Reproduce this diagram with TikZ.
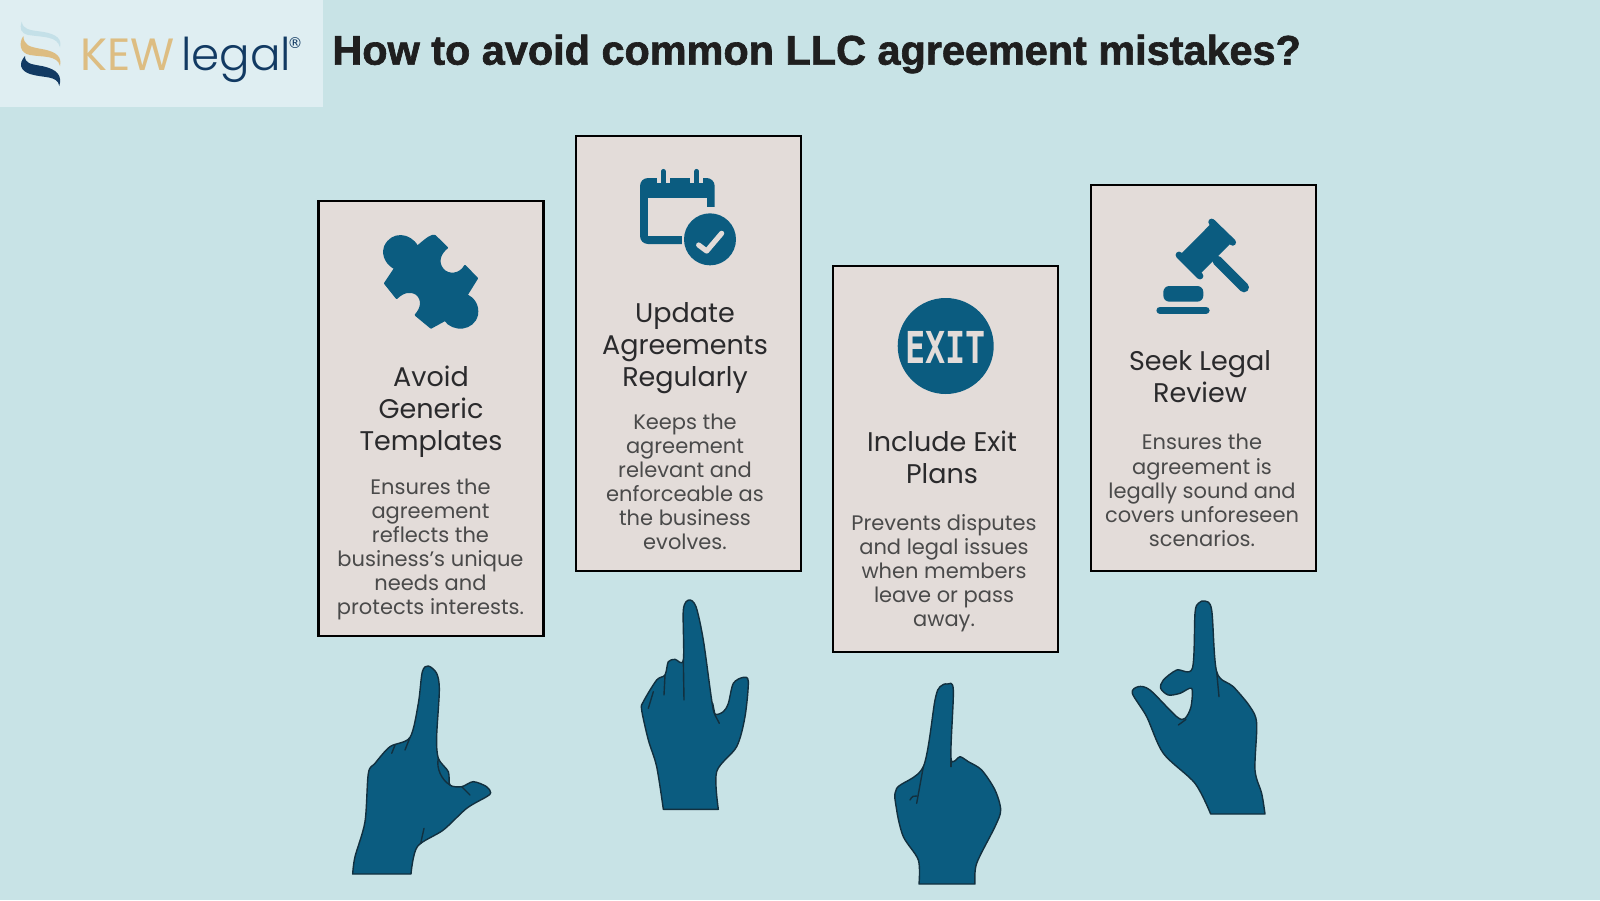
\documentclass[tikz,border=0pt]{standalone}
\usepackage{fontspec}
\setmainfont{Poppins}
\newfontfamily\titlefont[FakeBold=1.6]{Liberation Sans Bold}
\newfontfamily\exitfont{DejaVu Sans Mono Bold}
\newfontfamily\regfont{DejaVu Sans}
\usetikzlibrary{calc}
\definecolor{bgc}{HTML}{C8E3E6}
\definecolor{panelc}{HTML}{DFEEF2}
\definecolor{cardc}{HTML}{E3DCD9}
\definecolor{handc}{HTML}{0B5C80}
\definecolor{handline}{HTML}{12303F}
\definecolor{headc}{HTML}{2A2A2C}
\definecolor{bodyc}{HTML}{4A4A4A}
\definecolor{goldc}{HTML}{DDBD82}
\definecolor{navyc}{HTML}{123A63}
\definecolor{palec}{HTML}{C4E0E8}
\tikzset{
 card/.style={draw=black,fill=cardc,line width=1.2pt,minimum width=112.5pt,inner sep=0pt},
 head/.style={text=headc,align=center,inner sep=0pt,font=\fontsize{13.5}{15.9}\selectfont},
 bodytext/.style={text=bodyc,align=center,inner sep=0pt,font=\fontsize{10.5}{12.05}\selectfont},
 hand/.style={fill=handc,draw=handline,line width=.7pt,line join=round},
 crease/.style={draw=handline,line width=.7pt,line cap=round},
 icon/.style={fill=handc,draw=none},
 iconline/.style={draw=handc,line cap=round},
}
\begin{document}
\begin{tikzpicture}[x=0.5pt,y=-0.5pt]
\useasboundingbox (0,0) rectangle (1600,900);
\fill[bgc] (0,0) rectangle (1600,900);
\fill[panelc] (0,0) rectangle (322.5,107);
% logo
\begin{scope}[scale=1/3]
\fill[palec] (65,65) .. controls (58,85) and (62,100) .. (85,105) .. controls (130,112) and (172,108) .. (180,142) .. controls (186,118) and (172,102) .. (125,95) .. controls (85,90) and (70,88) .. (65,65) -- cycle;
\fill[goldc] (70,108) .. controls (55,130) and (60,160) .. (90,165) .. controls (130,172) and (172,165) .. (180,198) .. controls (186,172) and (172,155) .. (125,147) .. controls (85,140) and (72,135) .. (70,108) -- cycle;
\fill[navyc] (75,168) .. controls (55,190) and (60,212) .. (90,222) .. controls (130,235) and (172,225) .. (178,258) .. controls (186,228) and (175,208) .. (125,198) .. controls (90,192) and (75,190) .. (75,168) -- cycle;
\end{scope}
\node[anchor=base west,inner sep=0pt,text=goldc] (kew) at (80,70) {\fontsize{22.6}{24}\selectfont KEW};
\node[anchor=base west,inner sep=0pt,text=navyc] (legal) at (181,70) {\fontspec{Poppins Light}\fontsize{22.6}{24}\selectfont legal};
\node[inner sep=0pt,text=navyc] (reg) at (295,43) {\regfont\fontsize{7.5}{8}\selectfont ®};
% title
\node[anchor=west,inner sep=0pt,text=black!88,font=\titlefont\fontsize{20.7}{22}\selectfont] (title) at (332,54) {How to avoid common LLC agreement mistakes?};
% cards
\node[card,minimum height=217.5pt] (c1) at (431,418.5) {};
\node[card,minimum height=217.5pt] (c2) at (688.5,353.5) {};
\node[card,minimum height=193pt] (c3) at (945.5,459) {};
\node[card,minimum height=193pt] (c4) at (1203.5,378) {};
% headings
\node[head] (h1) at (431,412) {Avoid\\Generic\\Templates};
\node[head] (h2) at (685,348) {Update\\Agreements\\Regularly};
\node[head] (h3) at (942,457) {Include Exit\\Plans};
\node[head] (h4) at (1200,377) {Seek Legal\\Review};
% body
\node[bodytext] (b1) at (430.5,549.5) {Ensures the\\agreement\\reflects the\\business's unique\\needs and\\protects interests.};
\node[bodytext] (b2) at (685,482) {Keeps the\\agreement\\relevant and\\enforceable as\\the business\\evolves.};
\node[bodytext] (b3) at (944,573) {Prevents disputes\\and legal issues\\when members\\leave or pass\\away.};
\node[bodytext] (b4) at (1202,490.5) {Ensures the\\agreement is\\legally sound and\\covers unforeseen\\scenarios.};
% puzzle
\begin{scope}[shift={(360,150)},scale=1/3]
\fill[handc,draw=handc,line width=1pt,line join=round] (172,290) .. controls (150,250) and (95,245) .. (75,290) .. controls (65,320) and (85,345) .. (105,355)
 -- (75,400) -- (110,444) .. controls (130,425) and (150,420) .. (170,432) .. controls (190,450) and (185,475) .. (167,495)
 -- (213,533) -- (255,510) .. controls (280,545) and (340,540) .. (351,495) .. controls (356,465) and (340,445) .. (320,435)
 -- (351,385) -- (315,348) .. controls (300,375) and (265,378) .. (248,358) .. controls (230,335) and (240,310) .. (261,293)
 -- (225,258) .. controls (215,255) and (205,262) .. (172,290) -- cycle;
\end{scope}
% calendar
\begin{scope}[shift={(360,150)},scale=1/3]
\fill[handc,rounded corners=4pt] (840,84) rectangle (1064,282);
\fill[cardc] (865,143) rectangle (1040,258);
\fill[cardc] (965,172) rectangle (1070,290);
\fill[cardc] (890,76) rectangle (930,125);
\fill[cardc] (990,76) rectangle (1030,125);
\fill[handc] (903,84) rectangle (918,125);
\fill[handc] (1003,84) rectangle (1018,125);
\draw[iconline,line width=2.4pt] (910,64) -- (910,120);
\draw[iconline,line width=2.4pt] (1010,64) -- (1010,120);
\fill[handc] (890,98) rectangle (1030,130);
\fill[handc] (1050,268) circle [radius=78];
\draw[draw=cardc,line width=2.6pt,line cap=round,line join=round] (1016,285) -- (1040,303) -- (1085,250);
\end{scope}
% exit
\fill[handc] (945.7,346) circle [radius=48];
\node[inner sep=0pt,text=cardc,font=\exitfont\fontsize{22}{22}\selectfont,xscale=.76] (exit) at (945.7,347) {EXIT};
% gavel
\begin{scope}[shift={(880,200)},scale=1/3]
\draw[iconline,line width=5pt] (1012,182) -- (1092,262);
\fill[handc] (900,165) -- (992,72) -- (1052,130) -- (960,222) -- cycle;
\draw[iconline,line width=3.4pt] (897,165) -- (960,228);
\draw[iconline,line width=3.4pt] (995,66) -- (1058,127);
\fill[handc,rounded corners=3pt] (850,305) -- (850,258) -- (970,258) -- (970,305) -- cycle;
\draw[iconline,line width=3.6pt] (840,331) -- (978,331);
\end{scope}
% hand 1
\begin{scope}[shift={(340,640)},scale=1/3]
\draw[hand] (38,702) -- plot[smooth,tension=.5] coordinates {(38,702) (45,650) (75,545) (85,400) (105,370) (150,320) (210,292) (235,190) (247,95) (265,78) (290,100) (298,150) (290,290) (295,355) (325,395) (330,435) (365,440) (400,425) (440,440) (452,458) (440,470) (380,505) (310,570) (232,620) (213,702)} -- cycle;
\draw[crease] (210,292) -- (195,330);
\draw[crease] (165,315) -- (155,340);
\draw[crease] (295,355) .. controls (288,385) and (305,420) .. (330,435);
\draw[crease] (365,440) -- (390,465);
\draw[crease] (252,565) -- (242,610);
\end{scope}
% hand 2
\begin{scope}[shift={(340,640)},scale=1/3]
\draw[hand] (970,508) -- (1135,508) -- plot[smooth,tension=.5] coordinates {(1135,508) (1130,395) (1190,320) (1215,230) (1225,125) (1210,112) (1180,130) (1165,190) (1150,215) (1125,222) (1115,180) (1090,0) (1068,-100) (1047,-120) (1030,-90) (1030,60) (1005,58) (985,65) (975,105) (950,120) (910,185) (905,210) (925,300) (950,380) (970,508)} -- cycle;
\draw[crease] (1032,180) -- (1030,60);
\draw[crease] (972,165) -- (975,105);
\draw[crease] (925,205) -- (940,155);
\draw[crease] (1118,190) -- (1125,225) -- (1138,250);
\end{scope}
% hand 3
\begin{scope}[shift={(870,590)},scale=1/3]
\draw[hand] (147,882) -- (315,882) -- plot[smooth,tension=.5] coordinates {(315,882) (320,820) (375,710) (392,660) (375,600) (335,540) (295,515) (270,500) (243,505) (250,300) (232,282) (210,290) (195,330) (160,530) (80,595) (80,660) (100,740) (145,810) (147,882)} -- cycle;
\draw[crease] (160,530) -- (140,640);
\draw[crease] (120,630) .. controls (125,620) and (132,615) .. (140,618);
\draw[crease] (243,505) -- (243,530);
\end{scope}
% hand 4
\begin{scope}[shift={(870,590)},scale=1/3]
\draw[hand] (1022,672) -- (1185,672) -- plot[smooth,tension=.5] coordinates {(1185,672) (1175,610) (1155,540) (1160,400) (1140,350) (1090,290) (1040,245) (1025,60) (1005,33) (985,40) (975,70) (967,235) (920,240) (880,270) (872,295) (895,315) (930,310) (965,295) (963,350) (945,385) (920,380) (840,300) (805,290) (787,310) (830,380) (880,490) (975,580) (1022,672)} -- cycle;
\draw[crease] (1040,245) -- (1047,320);
\draw[crease] (925,405) .. controls (932,398) and (940,396) .. (948,388);
\end{scope}
\end{tikzpicture}
\end{document}
